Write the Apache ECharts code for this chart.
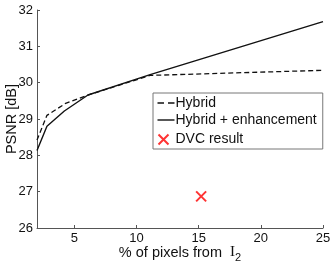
<!DOCTYPE html>
<html><head><meta charset="utf-8">
<script src="https://cdn.jsdelivr.net/npm/echarts@6/dist/echarts.min.js"></script>
<style>html,body{margin:0;padding:0;background:#fff}#c{width:332px;height:266px}</style>
</head><body><div id="c"></div>
<script>
const xTicks = [5, 10, 15, 20, 25];
const yTicks = [26, 27, 28, 29, 30, 31, 32];
const hybridX = [2, 2.8, 4.3, 6.1, 11.1, 25];
const hybridY = [28.42, 29.1, 29.43, 29.66, 30.2, 30.34];
const enhX = [2, 2.8, 4.2, 6.1, 11.1, 25];
const enhY = [28.13, 28.8, 29.22, 29.66, 30.22, 31.68];
const dvcX = [15.2];
const dvcY = [26.87];
const seriesNames = ['Hybrid', 'Hybrid + enhancement', 'DVC result'];

const zip = (a, b) => a.map((v, i) => [v, b[i]]);
const font = 'Liberation Sans, Arial, sans-serif';
const hidden = {color: 'rgba(0,0,0,0)', borderWidth: 0, borderColor: 'rgba(0,0,0,0)'};
const chart = echarts.init(document.getElementById('c'), null, {renderer: 'canvas'});
chart.setOption({
  animation: false,
  grid: {left: 37, right: 9, top: 10, bottom: 38, containLabel: false, outerBoundsMode: 'none'},
  xAxis: {
    type: 'value', min: 2, max: 25,
    splitLine: {show: false},
    axisLine: {lineStyle: {color: '#555', width: 1}},
    axisTick: {inside: true, length: 3, customValues: xTicks, lineStyle: {color: '#555'}},
    axisLabel: {customValues: xTicks, color: '#111', fontFamily: font, fontSize: 13, margin: 4},
    name: '{a|% of pixels from }{b|I}{c|2}',
    nameLocation: 'middle', nameGap: 14, nameMoveOverlap: false,
    nameTextStyle: {
      rich: {
        a: {fontFamily: font, fontSize: 14.5, color: '#111'},
        b: {fontFamily: 'Liberation Serif, Times New Roman, serif', fontSize: 15, color: '#111', padding: [0, 0, 0, 4]},
        c: {fontFamily: font, fontSize: 11, color: '#111', padding: [10, 0, 0, 0]}
      }
    }
  },
  yAxis: {
    type: 'value', min: 26, max: 32, interval: 1,
    splitLine: {show: false},
    axisLine: {show: true, lineStyle: {color: '#555', width: 1}},
    axisTick: {show: true, inside: true, length: 3, lineStyle: {color: '#555'}},
    axisLabel: {color: '#111', fontFamily: font, fontSize: 13, margin: 4},
    name: 'PSNR [dB]', nameLocation: 'middle', nameGap: 18, nameMoveOverlap: false,
    nameTextStyle: {fontFamily: font, fontSize: 14.5, color: '#111'}
  },
  legend: {
    orient: 'vertical', left: 153, top: 93, width: 168,
    borderColor: '#777', borderWidth: 1, borderRadius: 0,
    padding: [3, 6, 0, 2], itemWidth: 17, itemHeight: 14, itemGap: 3,
    textStyle: {fontFamily: font, fontSize: 14, color: '#111', padding: [0, 0, 0, -4]},
    data: [
      {name: seriesNames[0], itemStyle: hidden, lineStyle: {type: [6.5, 4], width: 1.3}},
      {name: seriesNames[1], itemStyle: hidden, lineStyle: {width: 1.4}},
      {name: seriesNames[2], icon: 'path://M0,0M17,14M1,2L11,12M11,2L1,12'}
    ]
  },
  series: [
    {
      name: seriesNames[0], type: 'line', data: zip(hybridX, hybridY),
      symbol: 'none', showSymbol: false,
      lineStyle: {color: '#111', width: 1.3, type: [5, 3]},
      itemStyle: {color: '#111'}
    },
    {
      name: seriesNames[1], type: 'line', data: zip(enhX, enhY),
      symbol: 'none', showSymbol: false,
      lineStyle: {color: '#111', width: 1.4},
      itemStyle: {color: '#111'}
    },
    {
      name: seriesNames[2], type: 'scatter', data: zip(dvcX, dvcY),
      symbol: 'path://M0,0L10,10M10,0L0,10', symbolSize: 10,
      itemStyle: {color: 'none', borderColor: '#ff0000', borderWidth: 2}
    }
  ]
});
</script></body></html>
